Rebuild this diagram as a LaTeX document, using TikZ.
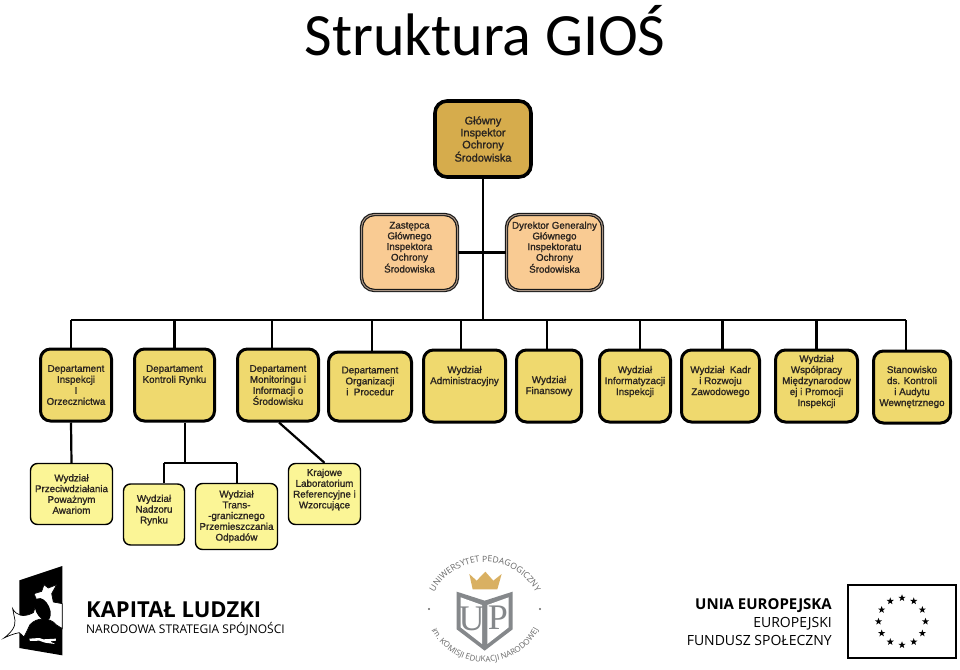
\documentclass[tikz,border=0pt]{standalone}
\usepackage{fontspec}
\setmainfont{Liberation Sans}
\newfontfamily\titlefont{Carlito}
\newfontfamily\boxfont{Liberation Sans}[FakeBold=1.3]
\newfontfamily\logofont{Open Sans}
\newfontfamily\seriffont{Liberation Serif}
\usetikzlibrary{shapes.geometric,decorations.text}
\definecolor{chieffill}{HTML}{D6AC4C}
\definecolor{deputyfill}{HTML}{F9CB93}
\definecolor{deputyedge}{HTML}{A89484}
\definecolor{deptfill}{HTML}{EFD96E}
\definecolor{unitfill}{HTML}{FBF596}
\definecolor{boxtext}{HTML}{2B2520}
\definecolor{logogray}{HTML}{85888B}
\definecolor{crowngold}{HTML}{D9B062}

\begin{document}
\begin{tikzpicture}[x=1pt,y=-1pt,
  every node/.style={inner sep=0pt,align=center},
  chief node/.style={rounded corners=12pt,draw=black,line width=3.6pt,fill=chieffill,text=boxtext,
    font=\boxfont\fontsize{11}{12}\selectfont},
  deputy node/.style={rounded corners=13pt,draw=black!90,line width=1.2pt,double=deputyedge,double distance=1pt,fill=deputyfill,text=boxtext,
    font=\boxfont\fontsize{9.8}{10.7}\selectfont},
  dept node/.style={rounded corners=10pt,draw=black,line width=3pt,fill=deptfill,text=boxtext,minimum height=72pt,
    font=\boxfont\fontsize{9.8}{11}\selectfont},
  unit node/.style={rounded corners=7pt,draw=black,line width=1.4pt,fill=unitfill,text=boxtext,
    font=\boxfont\fontsize{9.8}{10.8}\selectfont},
  link/.style={draw=black,line width=2.2pt},
  thin link/.style={draw=black,line width=1.5pt}]
  \useasboundingbox (0,0) rectangle (960,669);

  \node (title) at (485,31) {\titlefont\fontsize{60}{60}\selectfont Struktura GIOŚ};

  \node[chief node,minimum width=96pt,minimum height=76pt] (gio) at (483,139) {Główny\\Inspektor\\Ochrony\\Środowiska};
  \node[deputy node,minimum width=96pt,minimum height=76pt] (zast) at (409.5,252.5) {Zastępca\\Głównego\\Inspektora\\Ochrony\\Środowiska\\~};
  \node[deputy node,minimum width=96pt,minimum height=76pt] (dyr) at (554.5,252.5) {Dyrektor Generalny\\Głównego\\Inspektoratu\\Ochrony\\Środowiska\\~};

  % row of departments
  \node[dept node,minimum width=71pt] (dep1) at (76,385) {Departament\\Inspekcji\\I\\Orzecznictwa};
  \node[dept node,minimum width=80pt] (dep2) at (174.5,385) {Departament\\Kontroli Rynku\\~\\~};
  \node[dept node,minimum width=81pt] (dep3) at (278,385) {Departament\\Monitoringu i\\Informacji o\\Środowisku};
  \node[dept node,minimum width=83pt,minimum height=69pt] (dep4) at (370,386.5) {Departament\\Organizacji\\i~ Procedur\\~};
  \node[dept node,minimum width=82pt] (wyd1) at (464.5,386) {Wydział\\Administracyjny\\~\\~};
  \node[dept node,minimum width=65pt] (wyd2) at (549,386) {Wydział\\Finansowy};
  \node[dept node,minimum width=71pt] (wyd3) at (635,386) {Wydział\\Informatyzacji\\Inspekcji\\~};
  \node[dept node,minimum width=78pt] (wyd4) at (720.5,386) {Wydział~ Kadr\\i Rozwoju\\Zawodowego\\~};
  \node[dept node,minimum width=82pt] (wyd5) at (816.5,386) {Wydział\\Współpracy\\Międzynarodow\\ej i Promocji\\Inspekcji\\~};
  \node[dept node,minimum width=77pt] (stan) at (912,387) {Stanowisko\\ds. Kontroli\\i Audytu\\Wewnętrznego};

  % lower row
  \node[unit node,minimum width=82pt,minimum height=61pt] (prz) at (71.5,494) {Wydział\\Przeciwdziałania\\Poważnym\\Awariom};
  \node[unit node,minimum width=61pt,minimum height=61pt] (nad) at (154,514.5) {Wydział\\Nadzoru\\Rynku\\~};
  \node[unit node,minimum width=82pt,minimum height=66pt] (tra) at (236.5,516.5) {Wydział\\Trans-\\-granicznego\\Przemieszczania\\Odpadów};
  \node[unit node,minimum width=72pt,minimum height=61pt] (lab) at (324.5,494) {Krajowe\\Laboratorium\\Referencyjne i\\Wzorcujące\\~};

  \coordinate (busL) at (71,320);
  \coordinate (busM) at (505,320);
  \coordinate (busR) at (906,320);
  \coordinate (fork) at (185,463);
  \coordinate (forkL) at (164,463);
  \coordinate (forkR) at (237,463);

  % connectors
  \path[link] (gio) edge (gio |- busL);
  \path[link] (zast.east) edge (dyr.west);
  \path[link] (busL) edge (busM);
  \path[thin link] (busM) edge (busR);
  \path[link]
    ([xshift=-5pt]dep1.north |- busL) edge ([xshift=-5pt]dep1.north)
    (dep2.north |- busL) edge (dep2.north)
    ([xshift=-6pt]dep3.north |- busL) edge ([xshift=-6pt]dep3.north)
    ([xshift=2pt]dep4.north |- busL) edge ([xshift=2pt]dep4.north)
    ([xshift=-3.5pt]wyd1.north |- busL) edge ([xshift=-3.5pt]wyd1.north)
    ([xshift=-2pt]wyd2.north |- busL) edge ([xshift=-2pt]wyd2.north)
    ([xshift=5pt]wyd3.north |- busL) edge ([xshift=5pt]wyd3.north)
    ([xshift=2pt]wyd4.north |- busL) edge ([xshift=2pt]wyd4.north)
    (wyd5.north |- busL) edge (wyd5.north)
    ([xshift=-6pt]stan.north |- busL) edge ([xshift=-6pt]stan.north)
    ([xshift=-5pt]dep1.south) edge (prz.north)
    ([xshift=10.5pt]dep2.south) edge (fork)
    (forkL) edge (forkR)
    (forkL) edge (forkL |- nad.north)
    (forkR) edge (forkR |- tra.north);
  \draw[link] ([xshift=1pt]dep3.south) -- (lab.north);

  % logo: kapital ludzki
  \begin{scope}[shift={(0,562)},x=0.3333pt,y=-0.3333pt]
    \fill[black] (58,55) -- (187,12) -- (187,280) -- (58,258) -- cycle;
    \filldraw[fill=white,draw=black,line width=0.7pt] (38,140) .. controls (48,160) and (70,168) .. (100,152) -- (112,118) -- (102,95) -- (125,88) -- (132,68) -- (145,78) -- (170,68) -- (155,95) -- (160,120) -- (187,125) -- (187,200) -- (168,188) .. controls (150,165) and (110,165) .. (90,188) -- (72,225) -- (58,212) .. controls (40,215) and (25,222) .. (12,228) .. controls (30,215) and (48,195) .. (45,175) -- cycle;
    \fill[black,rotate around={25:(128,142)}] (128,142) ellipse [x radius=21,y radius=36];
    \fill[white] (88,230) -- (118,228) -- (130,232) -- (168,230) -- (168,236) -- (150,238) -- (165,246) -- (135,242) -- (118,236) -- (90,237) -- cycle;
  \end{scope}
  \node[anchor=base west] (kap) at (86,617.5) {\logofont\bfseries\fontsize{22}{22}\selectfont KAPITAŁ LUDZKI};
  \node[anchor=base west] (nar) at (86,633) {\logofont\fontsize{12}{12}\selectfont NARODOWA STRATEGIA SPÓJNOŚCI};

  % logo: uniwersytet
  \begin{scope}[shift={(410,550)},x=0.3333pt,y=-0.3333pt]
    \fill[crowngold] (178,72) -- (200,92) -- (226,65) -- (250,92) -- (275,72) -- (262,118) -- (188,118) -- cycle;
    \fill[logogray] (140,125) -- (224,152) -- (308,125) -- (308,238) -- (224,302) -- (140,238) -- cycle;
    \fill[white] (152,142) -- (216,165) -- (216,282) -- (152,232) -- cycle;
    \fill[white] (232,165) -- (296,142) -- (296,232) -- (232,282) -- cycle;
    \node[text=logogray] (letU) at (185,208) {\seriffont\fontsize{36}{36}\selectfont U};
    \node[text=logogray] (letP) at (264,204) {\seriffont\fontsize{36}{36}\selectfont P};
  \end{scope}
  \begin{scope}[shift={(485,620)},y=1pt]
    \path[decorate,decoration={text along path,text align=center,
      text={|\logofont\fontsize{8.6}{9}\selectfont\color{black!60}|UNIWERSYTET PEDAGOGICZNY}}]
      (170:58) arc[start angle=170,end angle=10,radius=58];
  \end{scope}
  \begin{scope}[shift={(485,601)},y=1pt]
    \path[decorate,decoration={text along path,text align=center,
      text={|\logofont\fontsize{8}{9}\selectfont\color{black!60}|im. KOMISJI EDUKACJI NARODOWEJ}}]
      (190:61) arc[start angle=190,end angle=350,radius=61];
  \end{scope}
  \fill[black!60] (429,609) circle (1.1pt);
  \fill[black!60] (540,609) circle (1.1pt);

  % logo: unia
  \node[anchor=base east] (uni) at (832,609.5) {\logofont\bfseries\fontsize{15}{15}\selectfont UNIA EUROPEJSKA};
  \node[anchor=base east] (eur) at (832,627) {\logofont\fontsize{14}{15}\selectfont EUROPEJSKI};
  \node[anchor=base east] (fun) at (832,645) {\logofont\fontsize{14}{15}\selectfont FUNDUSZ SPOŁECZNY};
  \node[draw=black,line width=1.5pt,minimum width=108pt,minimum height=73pt] (flag) at (902,621.5) {};
  \begin{scope}[shift={(flag.center)},y=1pt]
    \foreach \a in {0,30,...,330}
      \node[star,star points=5,star point ratio=2.5,fill=black,minimum size=7.5pt] (eu\a) at (\a:23.5) {};
  \end{scope}
\end{tikzpicture}
\end{document}
